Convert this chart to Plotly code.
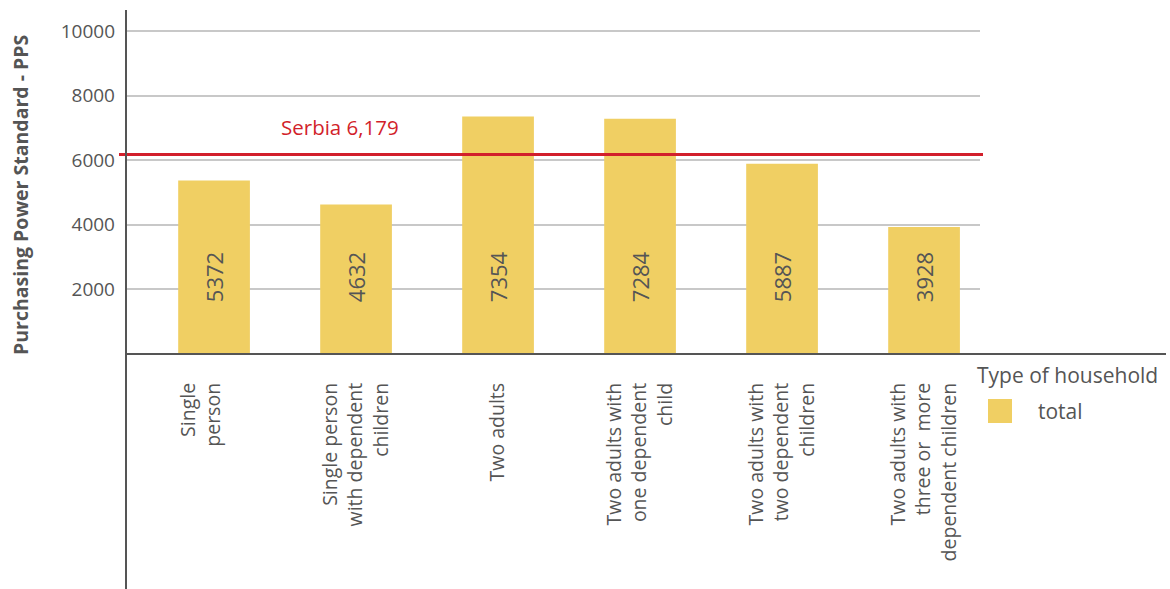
import plotly.graph_objects as go

categories = [
    "Single<br>person<br> ",
    "Single person<br>with dependent<br>children",
    "Two adults",
    "Two adults with<br>one dependent<br>child",
    "Two adults with<br>two dependent<br>children",
    "Two adults with<br>three or  more<br>dependent children",
]
values = [5372, 4632, 7354, 7284, 5887, 3928]
serbia_value = 6179
serbia_label = "Serbia 6,179"
y_tickvals = [2000, 4000, 6000, 8000, 10000]
y_ticktext = ["2000", "4000", "6000", "8000", "10000"]
legend_title = "Type of household"
series_name = "total"

BAR = "#f0cf63"
TXT = "#555555"
RED = "#d21f2b"
FONT = "Open Sans"

x_idx = list(range(len(categories)))

# plot area pixel helpers
L, R, T, B = 126, 980, 10, 354
def px(xp):
    return (xp - L) / (R - L)
def py(yp):
    return (B - yp) / (B - T)

fig = go.Figure()
fig.add_trace(go.Bar(
    x=x_idx, y=values, width=0.505, marker=dict(color=BAR, line=dict(width=0)),
    name=series_name, showlegend=False, hoverinfo="skip",
))

annotations = []
label_y = 2380
for i, v in zip(x_idx, values):
    annotations.append(dict(x=i, y=label_y, xref="x", yref="y", text=str(v), textangle=-90,
                            showarrow=False, font=dict(family=FONT, size=22, color=TXT)))

annotations.append(dict(x=px(279), y=py(127), xref="paper", yref="paper", text=serbia_label,
                        showarrow=False, xanchor="left", yanchor="middle",
                        font=dict(family=FONT, size=20.5, color=RED)))

shapes = []
shapes.append(dict(type="line", xref="paper", yref="y", x0=px(119), x1=px(983),
                   y0=serbia_value, y1=serbia_value, line=dict(color=RED, width=3)))
# axis lines
shapes.append(dict(type="line", xref="paper", yref="paper", x0=0, x1=px(1166), y0=0, y1=0,
                   line=dict(color="#555555", width=2)))
shapes.append(dict(type="line", xref="paper", yref="paper", x0=0, x1=0, y0=py(589), y1=1,
                   line=dict(color="#555555", width=2)))

# y title
annotations.append(dict(x=px(20), y=py(195), xref="paper", yref="paper",
                        text="<b>Purchasing Power Standard - PPS</b>", textangle=-90, showarrow=False,
                        xanchor="center", yanchor="middle", font=dict(family=FONT, size=19.5, color=TXT)))

# legend (manual)
annotations.append(dict(x=px(975), y=py(375), xref="paper", yref="paper", text=legend_title,
                        showarrow=False, xanchor="left", yanchor="middle",
                        font=dict(family=FONT, size=21, color=TXT)))
shapes.append(dict(type="rect", xref="paper", yref="paper", x0=px(988), x1=px(1012),
                   y0=py(423), y1=py(399), fillcolor=BAR, line=dict(width=0)))
annotations.append(dict(x=px(1036), y=py(411), xref="paper", yref="paper", text=series_name,
                        showarrow=False, xanchor="left", yanchor="middle",
                        font=dict(family=FONT, size=21, color=TXT)))

fig.update_layout(
    width=1170, height=589,
    margin=dict(l=L, r=1170 - R, t=T, b=589 - B),
    paper_bgcolor="white", plot_bgcolor="white",
    font=dict(family=FONT, color=TXT),
    shapes=shapes, annotations=annotations,
)

fig.update_xaxes(
    range=[-0.62, 5.394], tickmode="array", tickvals=x_idx, ticktext=categories,
    tickangle=-90, showgrid=False, showline=False, zeroline=False,
    ticklabelstandoff=24, tickfont=dict(family=FONT, size=19.5, color=TXT),
)
fig.update_yaxes(
    range=[0, 10650], tickmode="array", tickvals=y_tickvals, ticktext=y_ticktext,
    showgrid=True, gridcolor="#c8c8c8", gridwidth=1.5, zeroline=False, showline=False,
    ticklabelstandoff=10, tickfont=dict(family=FONT, size=19, color=TXT),
)

fig.write_html("out.html")
